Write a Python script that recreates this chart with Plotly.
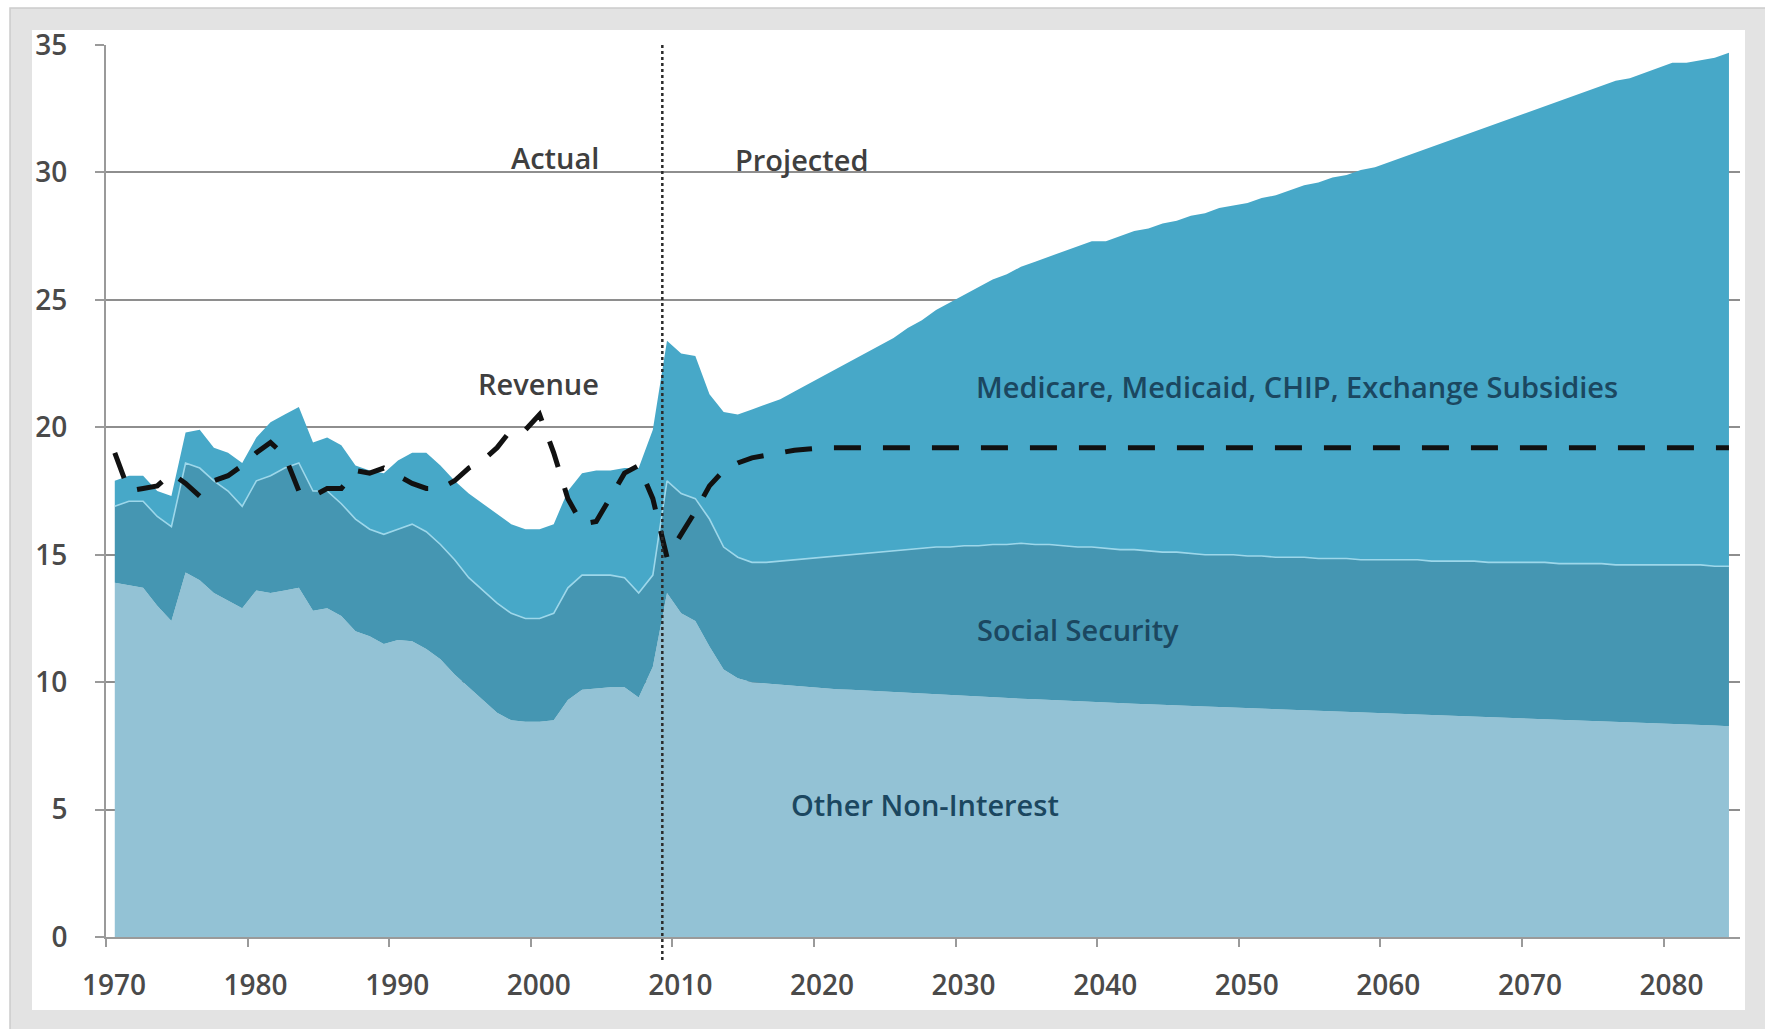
import plotly.graph_objects as go

# ---------------- data (percent of GDP) ----------------
years = list(range(1970, 2085))

# top of the "Other Non-Interest" band
other_top = [
    13.9, 13.8, 13.7, 13.0, 12.4, 14.3, 14.0, 13.5, 13.2, 12.9,
    13.6, 13.5, 13.6, 13.7, 12.8, 12.9, 12.6, 12.0, 11.8, 11.5,
    11.65, 11.6, 11.3, 10.9, 10.3, 9.8, 9.3, 8.8, 8.5, 8.45,
    8.45, 8.5, 9.3, 9.7, 9.75, 9.8, 9.8, 9.4, 10.6,
    13.5, 12.7, 12.4, 11.4, 10.5, 10.15, 10.0, 9.95, 9.9, 9.87, 9.8,
    9.75, 9.72, 9.7, 9.67, 9.63, 9.6, 9.57, 9.53, 9.5, 9.47,
    9.45, 9.43, 9.4, 9.38, 9.35, 9.33, 9.3, 9.28, 9.25, 9.23,
    9.2, 9.18, 9.15, 9.13, 9.1, 9.08, 9.06, 9.04, 9.02, 9.0,
    8.98, 8.96, 8.94, 8.92, 8.9, 8.88, 8.86, 8.84, 8.82, 8.8,
    8.78, 8.76, 8.74, 8.72, 8.7, 8.68, 8.66, 8.64, 8.62, 8.6,
    8.58, 8.56, 8.54, 8.52, 8.5, 8.48, 8.46, 8.44, 8.42, 8.4,
    8.38, 8.35, 8.32, 8.3, 8.27,
]

# top of the "Social Security" band (cumulative)
social_security_top = [
    16.9, 17.1, 17.1, 16.5, 16.1, 18.6, 18.4, 17.9, 17.5, 16.9,
    17.9, 18.1, 18.4, 18.6, 17.5, 17.5, 17.0, 16.4, 16.0, 15.8,
    16.0, 16.2, 15.9, 15.4, 14.8, 14.1, 13.6, 13.1, 12.7, 12.5,
    12.5, 12.7, 13.7, 14.2, 14.2, 14.2, 14.1, 13.5, 14.2,
    17.9, 17.4, 17.2, 16.4, 15.3, 14.9, 14.7, 14.7, 14.75, 14.8, 14.85,
    14.9, 14.95, 15.0, 15.05, 15.1, 15.15, 15.2, 15.25, 15.3, 15.3,
    15.35, 15.35, 15.4, 15.4, 15.45, 15.4, 15.4, 15.35, 15.3, 15.3,
    15.25, 15.2, 15.2, 15.15, 15.1, 15.1, 15.05, 15.0, 15.0, 15.0,
    14.95, 14.95, 14.9, 14.9, 14.9, 14.85, 14.85, 14.85, 14.8, 14.8,
    14.8, 14.8, 14.8, 14.75, 14.75, 14.75, 14.75, 14.7, 14.7, 14.7,
    14.7, 14.7, 14.65, 14.65, 14.65, 14.65, 14.6, 14.6, 14.6, 14.6,
    14.6, 14.6, 14.6, 14.55, 14.55,
]

# top of the "Medicare, Medicaid, CHIP, Exchange Subsidies" band (total non-interest)
health_top = [
    17.9, 18.1, 18.1, 17.5, 17.3, 19.8, 19.9, 19.2, 19.0, 18.6,
    19.6, 20.2, 20.5, 20.8, 19.4, 19.6, 19.3, 18.5, 18.3, 18.2,
    18.7, 19.0, 19.0, 18.5, 17.9, 17.4, 17.0, 16.6, 16.2, 16.0,
    16.0, 16.2, 17.5, 18.2, 18.3, 18.3, 18.4, 18.4, 19.9,
    23.4, 22.9, 22.8, 21.3, 20.6, 20.5, 20.7, 20.9, 21.1, 21.4, 21.7,
    22.0, 22.3, 22.6, 22.9, 23.2, 23.5, 23.9, 24.2, 24.6, 24.9,
    25.2, 25.5, 25.8, 26.0, 26.3, 26.5, 26.7, 26.9, 27.1, 27.3,
    27.3, 27.5, 27.7, 27.8, 28.0, 28.1, 28.3, 28.4, 28.6, 28.7,
    28.8, 29.0, 29.1, 29.3, 29.5, 29.6, 29.8, 29.9, 30.1, 30.2,
    30.4, 30.6, 30.8, 31.0, 31.2, 31.4, 31.6, 31.8, 32.0, 32.2,
    32.4, 32.6, 32.8, 33.0, 33.2, 33.4, 33.6, 33.7, 33.9, 34.1,
    34.3, 34.3, 34.4, 34.5, 34.7,
]

revenue = [
    19.0, 17.5, 17.6, 17.7, 18.2, 17.8, 17.3, 17.9, 18.1, 18.5,
    19.0, 19.4, 18.9, 17.5, 17.3, 17.6, 17.6, 18.3, 18.2, 18.4,
    18.1, 17.8, 17.6, 17.6, 17.9, 18.4, 18.7, 19.2, 19.9, 19.9,
    20.5, 19.0, 17.2, 16.2, 16.3, 17.3, 18.2, 18.5, 17.2,
    14.9, 15.8, 16.7, 17.7, 18.3, 18.6, 18.8, 18.9, 19.0, 19.1, 19.15,
    19.2, 19.2, 19.2, 19.2, 19.2, 19.2, 19.2, 19.2, 19.2, 19.2,
    19.2, 19.2, 19.2, 19.2, 19.2, 19.2, 19.2, 19.2, 19.2, 19.2,
    19.2, 19.2, 19.2, 19.2, 19.2, 19.2, 19.2, 19.2, 19.2, 19.2,
    19.2, 19.2, 19.2, 19.2, 19.2, 19.2, 19.2, 19.2, 19.2, 19.2,
    19.2, 19.2, 19.2, 19.2, 19.2, 19.2, 19.2, 19.2, 19.2, 19.2,
    19.2, 19.2, 19.2, 19.2, 19.2, 19.2, 19.2, 19.2, 19.2, 19.2,
    19.2, 19.2, 19.2, 19.2, 19.2,
]

tick_labels = ["1970", "1980", "1990", "2000", "2010", "2020",
               "2030", "2040", "2050", "2060", "2070", "2080"]
divider_year = 2008.67          # Actual / Projected boundary

# ---------------- layout constants ----------------
W, H = 1765, 1029
ML, MR, MT, MB = 106, 25, 45, 92
PW, PH = W - ML - MR, H - MT - MB
X0, X1 = 1969.38, 2084.78
tickvals = [X0 + 10 * i for i in range(len(tick_labels))]


def px_x(p):
    return (p - ML) / PW


def px_y(p):
    return (H - MB - p) / PH


C_OTHER = "#93c2d5"
C_SS = "#4596b2"
C_HEALTH = "#47a8c8"
FONT = "Open Sans"

fig = go.Figure()
fig.add_trace(go.Scatter(x=years, y=other_top, mode="lines", line=dict(width=0),
                         fill="tozeroy", fillcolor=C_OTHER, hoverinfo="skip"))
fig.add_trace(go.Scatter(x=years, y=social_security_top, mode="lines", line=dict(width=0),
                         fill="tonexty", fillcolor=C_SS, hoverinfo="skip"))
fig.add_trace(go.Scatter(x=years, y=health_top, mode="lines", line=dict(width=0),
                         fill="tonexty", fillcolor=C_HEALTH, hoverinfo="skip"))
# light separator between Social Security and health band
fig.add_trace(go.Scatter(x=years, y=social_security_top, mode="lines",
                         line=dict(width=1.6, color="#9dd7ea"), hoverinfo="skip"))
fig.add_trace(go.Scatter(x=years, y=revenue, mode="lines",
                         line=dict(width=5, color="#111111", dash="27px,22px"),
                         hoverinfo="skip"))

shapes = [
    dict(type="rect", xref="paper", yref="paper", layer="below",
         x0=px_x(10), x1=px_x(W + 20), y0=px_y(8), y1=px_y(H + 20),
         fillcolor="#e3e3e3", line=dict(color="#cccccc", width=1.5)),
    dict(type="rect", xref="paper", yref="paper", layer="below",
         x0=px_x(32), x1=px_x(1745), y0=px_y(30), y1=px_y(1010),
         fillcolor="white", line=dict(width=0)),
    dict(type="line", xref="x", yref="paper", layer="above",
         x0=divider_year, x1=divider_year, y0=px_y(960), y1=1.0,
         line=dict(color="#2b2b2b", width=2.5, dash="dot")),
]

label_dark = "#3f3f3f"
label_teal = "#1b4760"
annotations = [
    dict(text="Actual", x=2001.1, y=30.6, font=dict(color=label_dark)),
    dict(text="Projected", x=2018.5, y=30.5, font=dict(color=label_dark)),
    dict(text="Revenue", x=1999.9, y=21.7, font=dict(color=label_dark)),
    dict(text="Medicare, Medicaid, CHIP, Exchange Subsidies", x=2053.5, y=21.6,
         font=dict(color=label_teal)),
    dict(text="Social Security", x=2038.0, y=12.05, font=dict(color=label_teal)),
    dict(text="Other Non-Interest", x=2027.2, y=5.2, font=dict(color=label_teal)),
]
for a in annotations:
    a.update(xref="x", yref="y", showarrow=False, xanchor="center", yanchor="middle")
    a["font"].update(family=FONT, size=29, weight=600)

TICK_FONT = dict(family=FONT, size=28, color="#4a4a4a", weight=600)

fig.update_layout(
    width=W, height=H, autosize=False,
    margin=dict(l=ML, r=MR, t=MT, b=MB, pad=0),
    paper_bgcolor="white", plot_bgcolor="white",
    showlegend=False,
    font=dict(family=FONT, size=25, color="#505050"),
    shapes=shapes, annotations=annotations,
    xaxis=dict(range=[X0, X1], tickmode="array", tickvals=tickvals, ticktext=tick_labels,
               ticks="outside", ticklen=8, tickwidth=1.5, tickcolor="#9a9a9a",
               showline=True, linecolor="#9a9a9a", linewidth=2,
               showgrid=False, zeroline=False,
               tickfont=TICK_FONT, ticklabelshift=8, ticklabelstandoff=14),
    yaxis=dict(range=[0, 35], tick0=0, dtick=5,
               ticks="outside", ticklen=9, tickwidth=1.5, tickcolor="#9a9a9a",
               showline=True, linecolor="#9a9a9a", linewidth=2,
               showgrid=True, gridcolor="#8e8e8e", gridwidth=1.5, zeroline=False,
               tickfont=TICK_FONT, ticklabelstandoff=22),
)

fig.write_html("out.html", config={"displayModeBar": False},
               post_script="document.body.style.margin='0';document.body.style.overflow='hidden';")
